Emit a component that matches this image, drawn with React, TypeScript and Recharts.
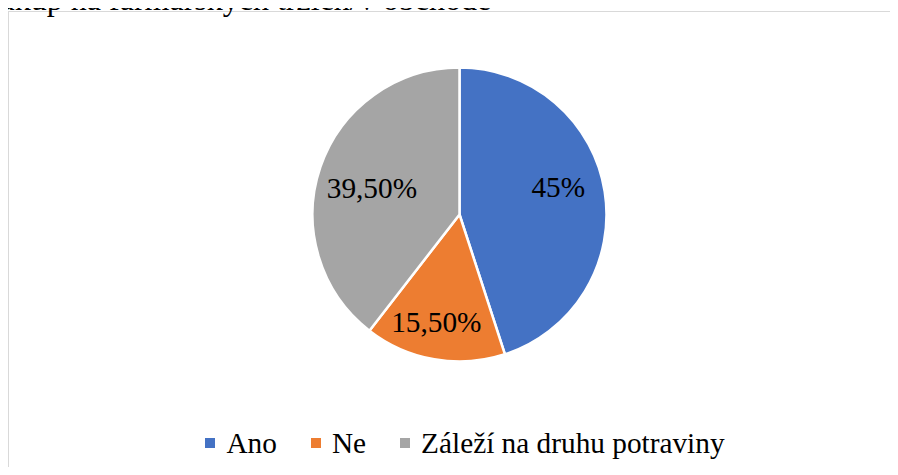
import { PieChart, Pie, Cell, Legend } from "recharts";

const categories = ["Ano", "Ne", "Záleží na druhu potraviny"];
const shares = [45, 15.5, 39.5];
const shareLabels = ["45%", "15,50%", "39,50%"];
const COLORS = ["#4472C4", "#ED7D31", "#A5A5A5"];
const TITLE = "Nákup na farmářských trzích/v obchodě";

const FONT = "'Liberation Serif', 'Times New Roman', serif";
const FS = 29.3;

// small nudges so the labels sit where Excel's "best fit" put them
const LABEL_NUDGE = [
  [0, -11.5],
  [-6, 9],
  [7, 5.5],
];

const data = categories.map((name, i) => ({ name, value: shares[i] }));

const RADIAN = Math.PI / 180;

function SliceLabel({ cx, cy, midAngle, outerRadius, index }: any) {
  const r = outerRadius * 0.68;
  const x = cx + r * Math.cos(-midAngle * RADIAN) + LABEL_NUDGE[index][0];
  const y = cy + r * Math.sin(-midAngle * RADIAN) + LABEL_NUDGE[index][1];
  return (
    <text
      x={x}
      y={y}
      fill="#000"
      textAnchor="middle"
      dominantBaseline="central"
      fontFamily={FONT}
      fontSize={FS}
    >
      {shareLabels[index]}
    </text>
  );
}

function LegendContent() {
  return (
    <div style={{ display: "flex", justifyContent: "center", alignItems: "center", fontFamily: FONT, fontSize: FS, color: "#000", lineHeight: "34px" }}>
      {categories.map((c, i) => (
        <span key={c} style={{ display: "flex", alignItems: "center", marginRight: i < categories.length - 1 ? 34 : 0 }}>
          <span style={{ width: 10, height: 10, background: COLORS[i], marginRight: 11, display: "inline-block" }} />
          <span>{c}</span>
        </span>
      ))}
    </div>
  );
}

export default function App() {
  return (
    <div style={{ position: "relative", margin: -8, width: 898, height: 475, overflow: "hidden", background: "#fff" }}>
      <div
        style={{
          position: "absolute",
          left: 8,
          top: 11,
          width: 1000,
          height: 600,
          border: "1px solid #d9d9d9",
          boxSizing: "border-box",
        }}
      />
      {/* the title sits mostly above the visible area, as in the cropped reference */}
      <svg width={898} height={40} style={{ position: "absolute", left: 0, top: 0 }}>
        <text x={-22.5} y={10} fontFamily={FONT} fontSize={32} fill="#000">
          {TITLE}
        </text>
      </svg>
      <div style={{ position: "absolute", left: 0, top: 0 }}>
        <PieChart width={898} height={475} margin={{ top: 0, right: 0, bottom: 0, left: 0 }}>
          <Pie
            data={data}
            dataKey="value"
            nameKey="name"
            cx={459.5}
            cy={214.5}
            outerRadius={147}
            startAngle={90}
            endAngle={-270}
            stroke="#fff"
            strokeWidth={2.5}
            label={SliceLabel}
            labelLine={false}
            isAnimationActive={false}
          >
            {data.map((d, i) => (
              <Cell key={d.name} fill={COLORS[i]} />
            ))}
          </Pie>
          <Legend
            content={<LegendContent />}
            wrapperStyle={{ position: "absolute", left: 0, top: 426, width: 930, height: 34 }}
          />
        </PieChart>
      </div>
    </div>
  );
}
